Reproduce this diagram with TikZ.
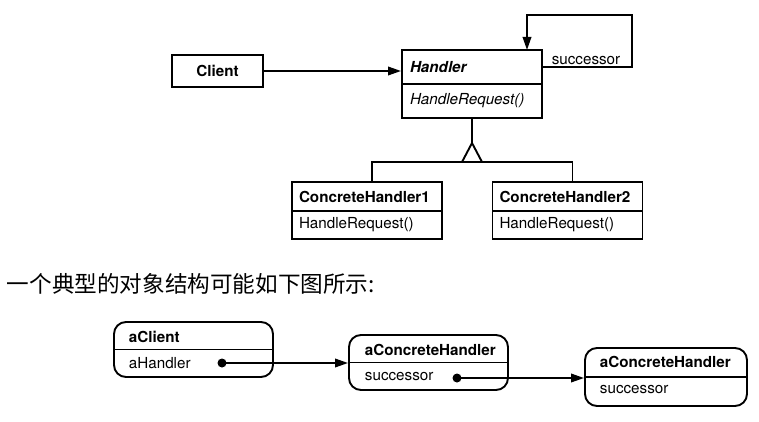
\documentclass[tikz,border=0pt]{standalone}
\usepackage{fontspec}
\setmainfont{TeX Gyre Heros}
\newfontfamily\cjk{Noto Sans CJK SC}
\usetikzlibrary{arrows.meta}
\begin{document}
\begin{tikzpicture}[x=1pt,y=-1pt, line width=1.9pt,
  txt/.style={font=\fontsize{15.2}{18}\selectfont},
  btxt/.style={font=\fontsize{15.2}{18}\selectfont\bfseries},
  cls/.style={draw, txt, inner ysep=0pt, align=left},
  hcls/.style={cls, minimum width=140pt, text width=124pt, inner xsep=8pt, minimum height=34pt},
  ccls/.style={cls, minimum width=150pt, text width=136pt, inner xsep=7pt},
  obj/.style={draw, rounded corners=12pt},
  olab/.style={anchor=west, inner sep=0pt},
  dot/.style={circle, fill, inner sep=0pt, minimum size=9pt},
  arr/.style={-{Triangle[length=13pt,width=8.5pt]}}]
\useasboundingbox (0,0) rectangle (759,422);

% Client
\node[draw, btxt, minimum width=91pt, minimum height=32pt, inner sep=0pt] (client) at (217.5,71) {Client};

% Handler
\node[hcls, font=\fontsize{15.2}{18}\selectfont\bfseries\itshape] (h1) at (472,67) {Handler};
\node[hcls, font=\fontsize{15.2}{18}\selectfont\itshape] (h2) at (472,101) {HandleRequest()};

\draw[arr] (client.east) -- (client.east -| h1.west);

% successor self loop
\coordinate (lp) at (632,15);
\coordinate (lpin) at (527,50);
\draw[arr] (h1.east) -| (lp) -| (lpin);
\node[txt, inner sep=0pt] (succ) at (586,61) {successor};

% Concrete handlers
\node[ccls, btxt, minimum height=29pt] (c1a) at (367,196.5) {ConcreteHandler1};
\node[ccls, minimum height=28pt] (c1b) at (367,225) {HandleRequest()};
\node[ccls, btxt, minimum height=29pt] (c2a) at (567.5,196.5) {ConcreteHandler2};
\node[ccls, minimum height=28pt] (c2b) at (567.5,225) {HandleRequest()};

% inheritance
\coordinate (apex) at (472,143);
\coordinate (base) at (472,162);
\coordinate (t1) at ([xshift=5pt]c1a.north);
\coordinate (t2) at ([xshift=5pt]c2a.north);
\draw (h2.south) -- (apex);
\draw (t1) |- (base) -| (t2);
\draw[fill=white, line join=miter] (apex) -- ++(-10,19) -- ++(20,0) -- cycle;

% Chinese text
\node[anchor=west, inner sep=0pt, font=\cjk\fontsize{22.6}{26}\selectfont] (cn) at (6,284) {一个典型的对象结构可能如下图所示:};

% object diagram
\node[obj, minimum width=159pt, minimum height=55pt] (o1) at (193.5,349.5) {};
\draw (o1.west) -- (o1.east);
\node[olab, btxt] (o1t) at (128,337) {aClient};
\node[olab, txt] (o1f) at (128,363) {aHandler};
\node[dot] (d1) at (222,363) {};

\node[obj, minimum width=159pt, minimum height=55pt] (o2) at (428.5,362.5) {};
\draw (o2.west) -- (o2.east);
\node[olab, btxt] (o2t) at (364,350) {aConcreteHandler};
\node[olab, txt] (o2f) at (364,377) {successor};
\node[dot] (d2) at (457,378) {};

\node[obj, minimum width=162pt, minimum height=58pt] (o3) at (666,377) {};
\draw (o3.west) -- (o3.east);
\node[olab, btxt] (o3t) at (599,362) {aConcreteHandler};
\node[olab, txt] (o3f) at (599,390) {successor};

\draw[arr] (d1.center) -- (d1 -| o2.west);
\draw[arr] (d2.center) -- (d2 -| o3.west);
\end{tikzpicture}
\end{document}
